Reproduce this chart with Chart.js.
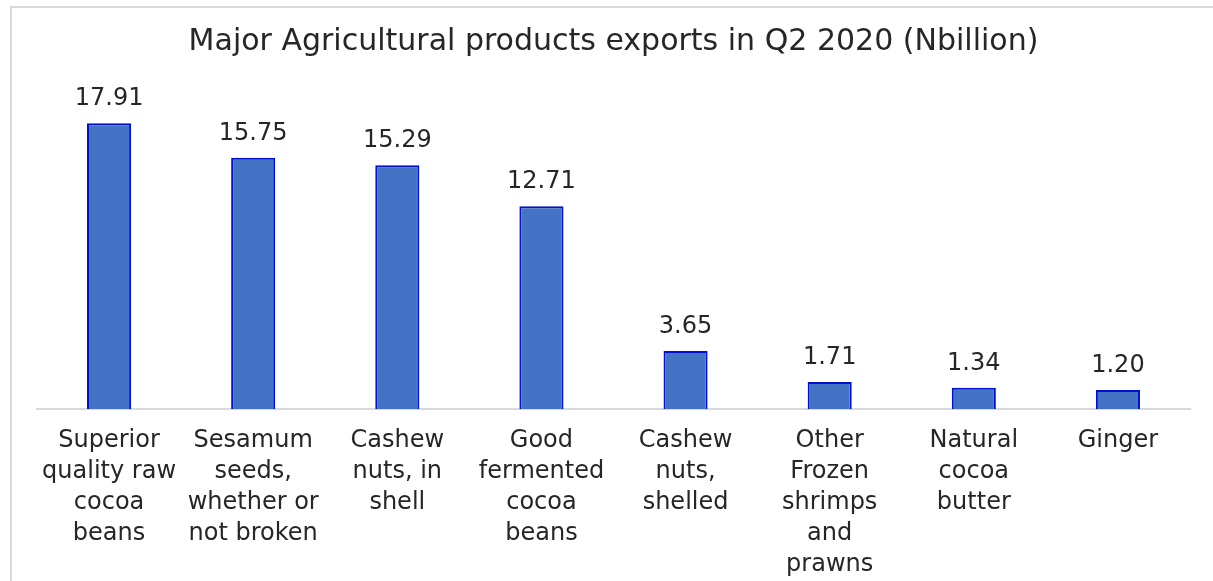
<!DOCTYPE html>
<html>
<head>
<meta charset="utf-8">
<script src="https://cdn.jsdelivr.net/npm/chart.js@4.4.0/dist/chart.umd.min.js"></script>
<style>
  html, body { margin: 0; padding: 0; background: #fff; overflow: hidden; }
  #wrap { position: absolute; left: 0; top: 0; width: 1213px; height: 581px; overflow: hidden; }
  #frame { position: absolute; left: 10px; top: 6px; width: 1210px; height: 600px;
           border-left: 2px solid #d9d9d9; border-top: 2px solid #d9d9d9; pointer-events: none; }
</style>
</head>
<body>
<div id="wrap"><canvas id="c" width="1213" height="598"></canvas></div>
<div id="frame"></div>
<script>
const chartTitle = "Major Agricultural products exports in Q2 2020 (Nbillion)";
const categoryLines = [
  ["Superior", "quality raw", "cocoa", "beans"],
  ["Sesamum", "seeds,", "whether or", "not broken"],
  ["Cashew", "nuts, in", "shell"],
  ["Good", "fermented", "cocoa", "beans"],
  ["Cashew", "nuts,", "shelled"],
  ["Other", "Frozen", "shrimps", "and", "prawns"],
  ["Natural", "cocoa", "butter"],
  ["Ginger"]
];
const exportValues = [17.91, 15.75, 15.29, 12.71, 3.65, 1.71, 1.34, 1.20];
const valueLabels = ["17.91", "15.75", "15.29", "12.71", "3.65", "1.71", "1.34", "1.20"];

const FONT = "'DejaVu Sans', 'Open Sans', sans-serif";

const valueLabelPlugin = {
  id: 'valueLabels',
  afterDatasetsDraw(chart) {
    const ctx = chart.ctx;
    const meta = chart.getDatasetMeta(0);
    ctx.save();
    ctx.font = "24px " + FONT;
    ctx.fillStyle = "#262626";
    ctx.textAlign = "center";
    ctx.textBaseline = "alphabetic";
    meta.data.forEach((bar, i) => {
      ctx.fillText(valueLabels[i], bar.x, bar.y - 18);
    });
    ctx.restore();
  }
};

new Chart(document.getElementById('c'), {
  type: 'bar',
  data: {
    labels: categoryLines,
    datasets: [{
      data: exportValues,
      backgroundColor: '#4472C4',
      borderColor: '#0010CC',
      borderWidth: 2,
      categoryPercentage: 1.0,
      barPercentage: 0.306
    }]
  },
  options: {
    responsive: false,
    animation: false,
    devicePixelRatio: 1,
    layout: { padding: { left: 37, right: 23, top: 0, bottom: 2 } },
    plugins: {
      legend: { display: false },
      tooltip: { enabled: false },
      title: {
        display: true,
        text: chartTitle,
        color: '#262626',
        font: { family: FONT, size: 30, weight: 'normal', lineHeight: 1.2 },
        padding: { top: 24, bottom: 30 }
      }
    },
    scales: {
      x: {
        grid: { display: false, drawTicks: false },
        border: { display: true, color: '#d9d9d9', width: 2 },
        ticks: {
          color: '#262626',
          font: { family: FONT, size: 24, lineHeight: 1.29 },
          padding: 16,
          maxRotation: 0,
          autoSkip: false
        }
      },
      y: {
        display: false,
        min: 0,
        max: 20
      }
    }
  },
  plugins: [valueLabelPlugin]
});
</script>
</body>
</html>
